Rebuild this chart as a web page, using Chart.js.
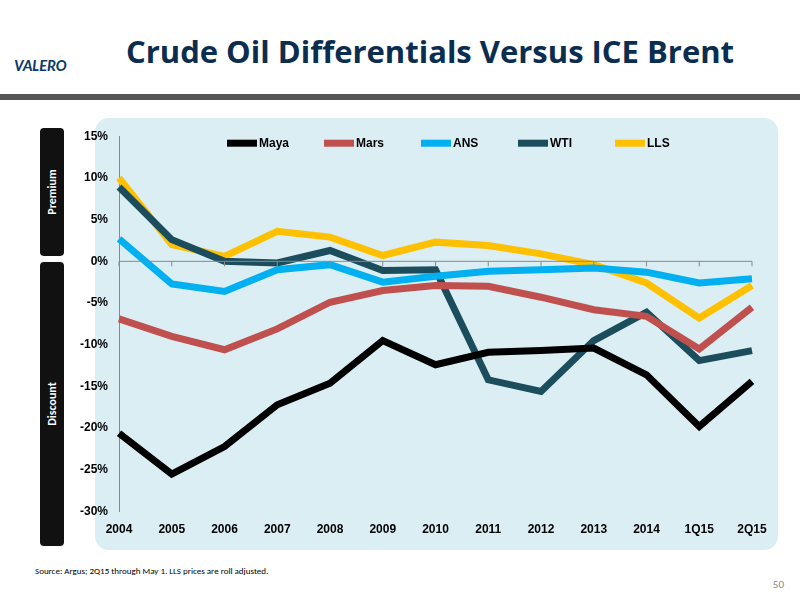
<!DOCTYPE html>
<html>
<head>
<meta charset="utf-8">
<script src="https://cdn.jsdelivr.net/npm/chart.js@4"></script>
<style>
  body { margin: 0; width: 800px; height: 600px; background: #fff; font-family: Calibri, "Liberation Sans", Arial, sans-serif; position: relative; overflow: hidden; }
  #title { position: absolute; left: 100px; top: 30px; width: 660px; text-align: center; font-size: 31px; font-weight: bold; color: #0b2d4f; font-family: "Open Sans", "Liberation Sans", sans-serif; }
  #logo { position: absolute; left: 14px; top: 56px; font-size: 16px; font-weight: bold; color: #0b3a6a; font-style: italic; }
  #bar { position: absolute; left: 0; top: 94px; width: 800px; height: 6px; background: #555; }
  #panel { position: absolute; left: 95px; top: 118px; width: 683px; height: 432px; background: #dbeef4; border-radius: 14px; }
  .side { position: absolute; left: 40px; width: 24px; background: #111; color: #fff; border-radius: 4px; }
  .side span { position: absolute; left: 50%; top: 50%; transform: translate(-50%, -50%) rotate(-90deg); font-size: 12px; font-weight: bold; white-space: nowrap; }
  #src { position: absolute; left: 35px; top: 565px; font-size: 9px; color: #000; }
  #pg { position: absolute; right: 16px; top: 578px; font-size: 11px; color: #888; }
  #wrap { position: absolute; left: 77px; top: 126px; width: 693px; height: 414px; }
</style>
</head>
<body>
<div id="logo">VALERO</div>
<div id="title">Crude Oil Differentials Versus ICE Brent</div>
<div id="bar"></div>
<div id="panel"></div>
<div class="side" style="top:128px;height:128px"><span>Premium</span></div>
<div class="side" style="top:262px;height:284px"><span>Discount</span></div>
<div id="wrap"><canvas id="chart"></canvas></div>
<div id="src">Source: Argus; 2Q15 through May 1. LLS prices are roll adjusted.</div>
<div id="pg">50</div>
<script>
const periods = ["2004","2005","2006","2007","2008","2009","2010","2011","2012","2013","2014","1Q15","2Q15"];
const maya = [-20.6,-25.5,-22.2,-17.2,-14.6,-9.5,-12.4,-10.9,-10.7,-10.4,-13.6,-19.8,-14.4];
const mars = [-6.9,-9.0,-10.6,-8.1,-4.9,-3.5,-2.9,-3.0,-4.3,-5.8,-6.6,-10.5,-5.5];
const ans  = [2.7,-2.7,-3.6,-1.0,-0.4,-2.5,-1.8,-1.2,-1.0,-0.8,-1.3,-2.6,-2.1];
const wti  = [8.9,2.6,0.0,-0.2,1.3,-1.1,-1.0,-14.2,-15.6,-9.5,-6.1,-11.9,-10.7];
const lls  = [10.0,2.0,0.6,3.6,2.9,0.7,2.3,1.9,0.9,-0.4,-2.6,-6.8,-2.9];

const zeroLine = {
  id: "zeroLine",
  afterDatasetsDraw(chart) {
    const { ctx, scales: { x, y } } = chart;
    const yy = y.getPixelForValue(0);
    ctx.save();
    ctx.strokeStyle = "#888";
    ctx.lineWidth = 1;
    ctx.beginPath();
    ctx.moveTo(x.left, yy); ctx.lineTo(x.right, yy);
    for (let i = 0; i < periods.length; i++) {
      const xx = x.getPixelForValue(i);
      ctx.moveTo(xx, yy); ctx.lineTo(xx, yy + 5);
    }
    ctx.stroke();
    ctx.restore();
  }
};

// legend drawn inside the plot area, like the original
const innerLegend = {
  id: "innerLegend",
  afterDraw(chart) {
    const { ctx, chartArea } = chart;
    const sets = chart.data.datasets;
    ctx.save();
    ctx.font = "bold 12px 'Liberation Sans', sans-serif";
    ctx.textBaseline = "middle";
    const step = 97;
    let xx = (chartArea.left + chartArea.right) / 2 - (sets.length * step) / 2 + 34;
    const yy = chartArea.top + 7;
    sets.forEach((ds) => {
      ctx.strokeStyle = ds.borderColor;
      ctx.lineWidth = 7;
      ctx.beginPath();
      ctx.moveTo(xx, yy); ctx.lineTo(xx + 30, yy);
      ctx.stroke();
      ctx.fillStyle = "#000";
      ctx.fillText(ds.label, xx + 32, yy);
      xx += step;
    });
    ctx.restore();
  }
};

const mk = (label, data, color) => ({ label, data, borderColor: color, backgroundColor: color, borderWidth: 7, pointRadius: 0, tension: 0 });

new Chart(document.getElementById("chart"), {
  type: "line",
  data: {
    labels: periods,
    datasets: [
      mk("Maya", maya, "#000000"),
      mk("Mars", mars, "#c0504d"),
      mk("ANS", ans, "#00b0f0"),
      mk("WTI", wti, "#1b4d5c"),
      mk("LLS", lls, "#ffc000"),
    ],
  },
  options: {
    responsive: true,
    maintainAspectRatio: false,
    animation: false,
    layout: { padding: { right: 18 } },
    plugins: {
      legend: { display: false },
      tooltip: { enabled: false },
    },
    scales: {
      x: {
        offset: false,
        grid: { display: false },
        border: { display: false },
        ticks: { color: "#000", font: { size: 12, weight: "bold" }, maxRotation: 0 },
      },
      y: {
        min: -30, max: 15,
        grid: { display: false, drawTicks: true },
        border: { color: "#888" },
        ticks: { stepSize: 5, color: "#000", font: { size: 12, weight: "bold" }, callback: (v) => v + "%" },
      },
    },
  },
  plugins: [zeroLine, innerLegend],
});
</script>
</body>
</html>
